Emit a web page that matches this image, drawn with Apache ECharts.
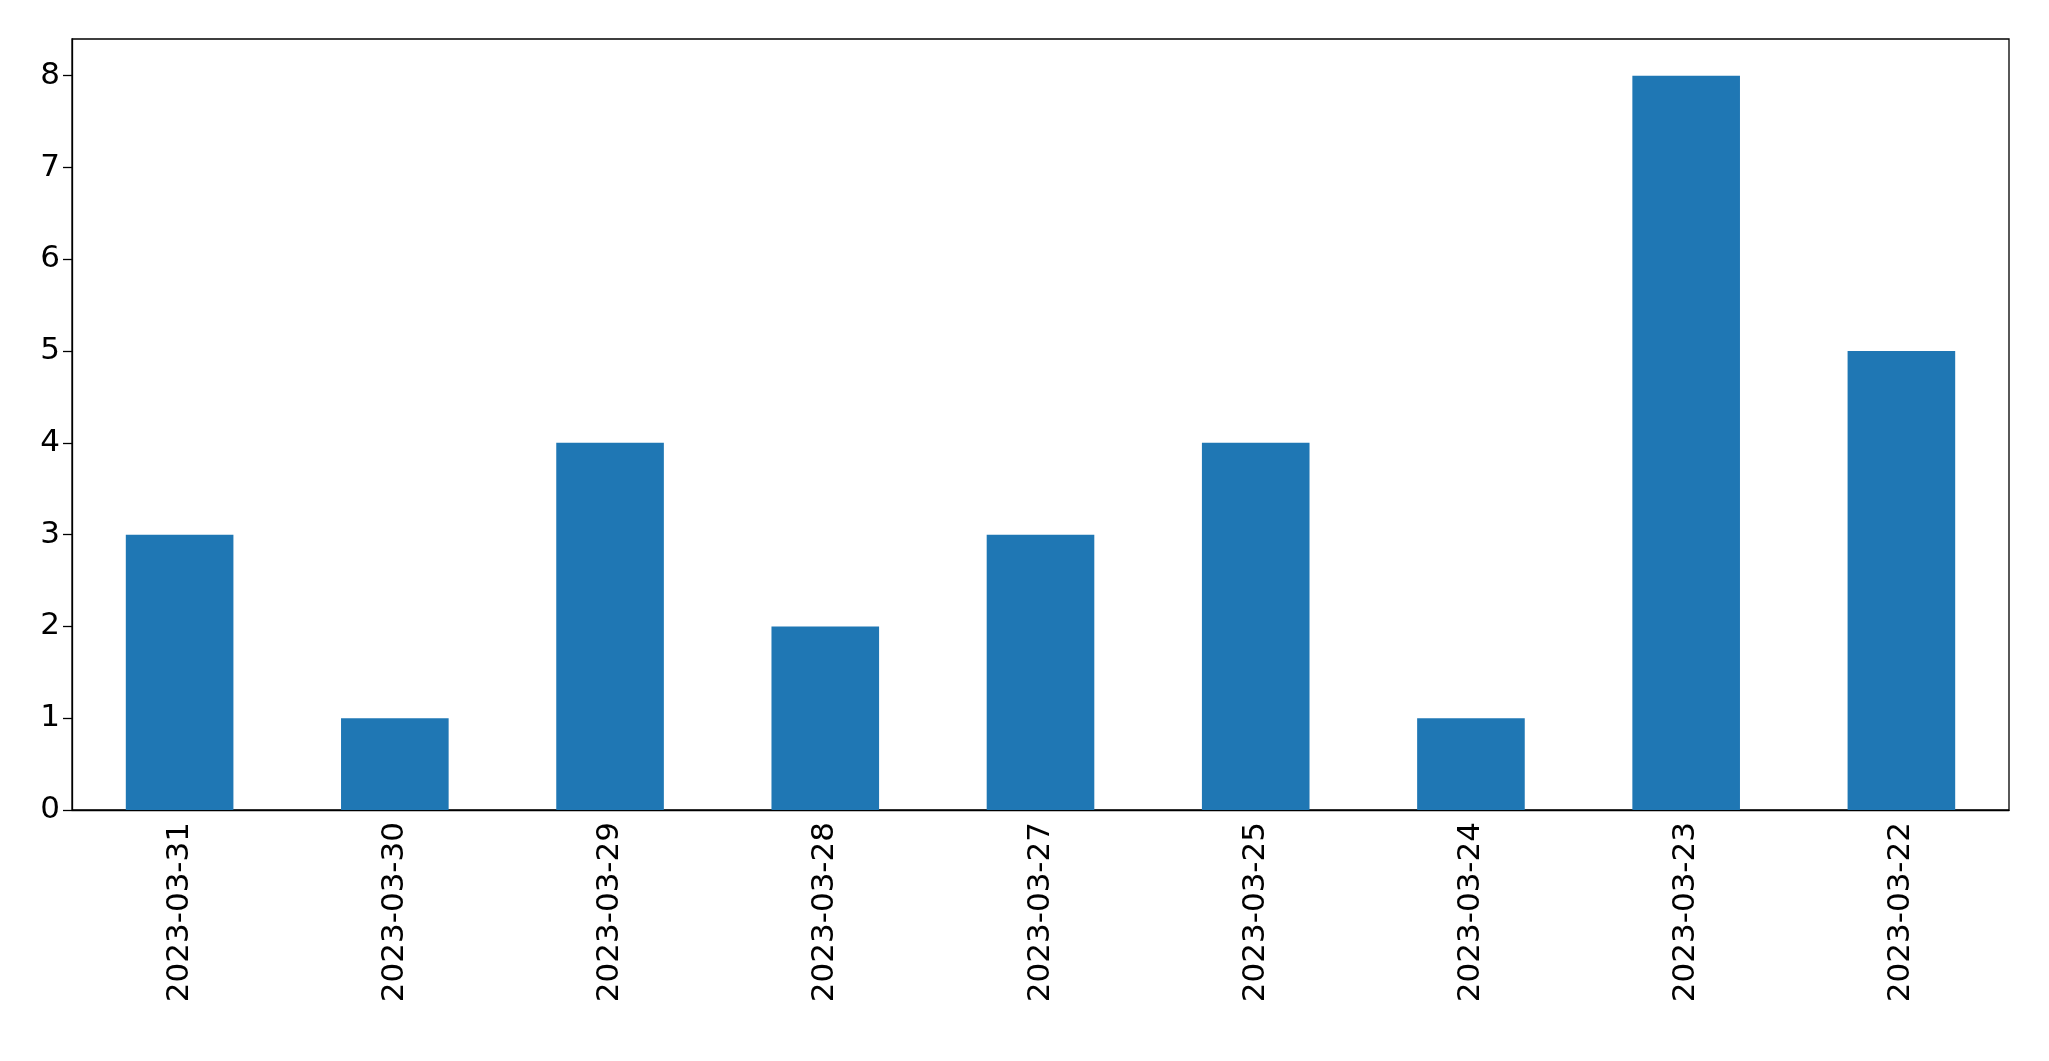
<!DOCTYPE html>
<html>
<head>
<meta charset="utf-8">
<script src="https://cdn.jsdelivr.net/npm/echarts@6/dist/echarts.min.js"></script>
<style>html,body{margin:0;padding:0;background:#fff}#chart{width:2049px;height:1061px}</style>
</head>
<body>
<div id="chart"></div>
<script>
const dates = ['2023-03-31', '2023-03-30', '2023-03-29', '2023-03-28', '2023-03-27',
    '2023-03-25', '2023-03-24', '2023-03-23', '2023-03-22'];
const counts = [3, 1, 4, 2, 3, 4, 1, 8, 5];
const yTicks = [0, 1, 2, 3, 4, 5, 6, 7, 8];

const chart = echarts.init(document.getElementById('chart'), null, { renderer: 'canvas' });
const font = 'DejaVu Sans, sans-serif';

chart.setOption({
    animation: false,
    grid: {
        left: 72, right: 40, top: 39, bottom: 251,
        show: true, borderColor: '#000', borderWidth: 1.3,
    },
    xAxis: {
        type: 'category',
        data: dates,
        axisLine: { lineStyle: { color: '#000', width: 1.3 } },
        axisTick: { alignWithLabel: true, length: 9, lineStyle: { color: '#000', width: 1.3 } },
        axisLabel: { rotate: 90, color: '#000', fontSize: 31, fontFamily: font, margin: 12 },
    },
    yAxis: {
        type: 'value',
        min: 0, max: 8.4, interval: 1,
        axisLine: { show: true, lineStyle: { color: '#000', width: 1.3 } },
        axisTick: { show: true, length: 9, lineStyle: { color: '#000', width: 1.3 } },
        axisLabel: {
            color: '#000', fontSize: 31, fontFamily: font, margin: 12,
            showMaxLabel: false,
            formatter: v => (yTicks.includes(v) ? String(v) : ''),
        },
        splitLine: { show: false },
    },
    series: [{
        type: 'bar',
        data: counts,
        barWidth: '50%',
        itemStyle: { color: '#1f77b4' },
    }],
});
</script>
</body>
</html>
